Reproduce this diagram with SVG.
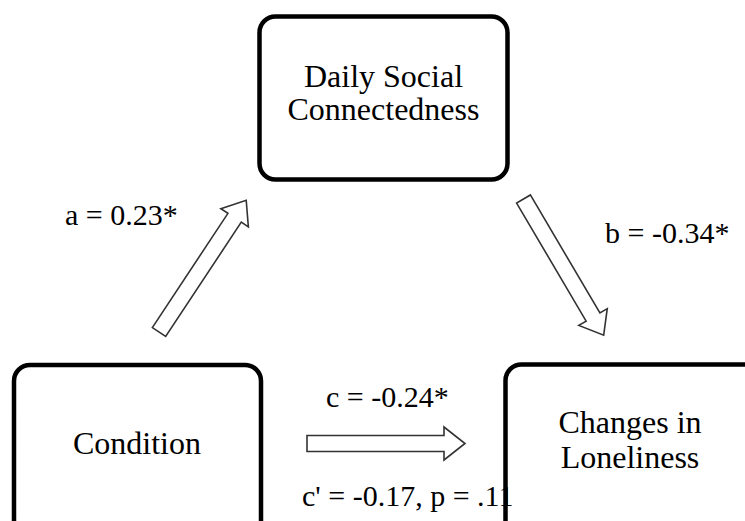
<svg xmlns="http://www.w3.org/2000/svg" width="745" height="521" viewBox="0 0 745 521">
  <defs>
    <style>
      .box { fill: #ffffff; stroke: #000000; stroke-width: 4.5; }
      .node-text { font-family: 'Liberation Serif', 'DejaVu Serif', serif; font-size: 32px; fill: #000000; text-anchor: middle; }
      .label { font-family: 'Liberation Serif', 'DejaVu Serif', serif; font-size: 30px; fill: #000000; }
      .block-arrow { fill: #ffffff; stroke: #333333; stroke-width: 1.6; stroke-linejoin: miter; }
    </style>
    <!-- hollow block arrow, tail at origin, pointing along +x -->
    <path id="blockArrow" d="M0,-8 H137 V-16.5 L158,0 L137,16.5 V8 H0 Z"/>
  </defs>
  <rect x="0" y="0" width="745" height="521" fill="#ffffff"/>

  <g id="node-connectedness">
    <rect class="box" x="259.5" y="16.5" width="248" height="163" rx="16" ry="16"/>
    <text class="node-text" x="383.5" y="87">Daily Social</text>
    <text class="node-text" x="383.5" y="120">Connectedness</text>
  </g>

  <g id="node-condition">
    <rect class="box" x="14" y="365" width="247" height="180" rx="16" ry="16"/>
    <text class="node-text" x="137" y="454">Condition</text>
  </g>

  <g id="node-loneliness">
    <rect class="box" x="505.5" y="364.5" width="260" height="180" rx="16" ry="16"/>
    <text class="node-text" x="630" y="433">Changes in</text>
    <text class="node-text" x="630" y="468">Loneliness</text>
  </g>

  <g id="connectors">
    <use href="#blockArrow" class="block-arrow" transform="translate(159,332) rotate(-56.5)"/>
    <use href="#blockArrow" class="block-arrow" transform="translate(523.5,199) rotate(59.5)"/>
    <use href="#blockArrow" class="block-arrow" transform="translate(307,443.5)"/>
  </g>

  <g id="labels">
    <text class="label" x="65" y="225" font-size="29">a = 0.23*</text>
    <text class="label" x="605" y="243">b = -0.34*</text>
    <text class="label" x="326" y="407">c = -0.24*</text>
    <text class="label" x="302" y="506">c' = -0.17, p = .11</text>
  </g>
</svg>
